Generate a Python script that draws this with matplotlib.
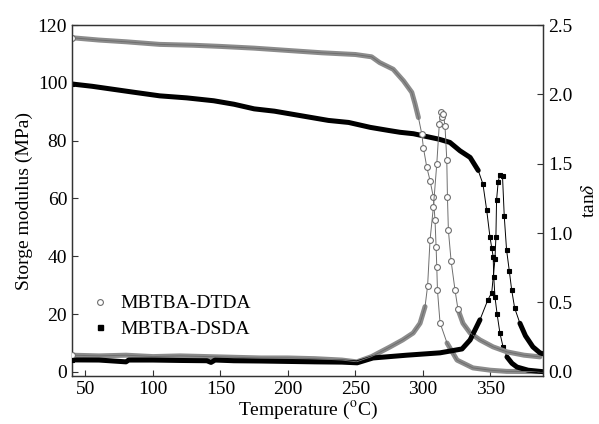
import matplotlib.pyplot as plt
from matplotlib.lines import Line2D
import numpy as np

# storage modulus, MBTBA-DTDA (MPa)
t_mod_dtda = [40, 60, 80, 105, 130, 150, 175, 200, 225, 250, 262, 268, 278, 285.6,
              291.8, 294.2, 296.7, 299.2, 300.4, 302.9, 305.3, 307.8, 309, 309.8,
              310.3, 310.8, 312.7, 317.9, 325.3, 337.1, 350, 362, 386.7]
e_dtda = [115.6, 114.8, 114.2, 113.3, 113.0, 112.6, 112.0, 111.2, 110.4, 109.8, 109.0,
          107.0, 104.7, 100.7, 96.7, 92.7, 88.0, 82.3, 77.5, 70.8, 66.2, 60.4, 52.4,
          43.2, 36.3, 28.3, 17.0, 10.0, 4.1, 1.4, 0.6, 0.2, 0.1]

# storage modulus, MBTBA-DSDA (MPa)
t_mod_dsda = [40, 55, 70, 85, 105, 125, 145, 160, 175, 190, 200, 215, 230, 245, 261,
              275, 283, 293, 305, 312, 320, 327.5, 335, 341, 344.5, 347.3, 349.7, 351,
              352.1, 352.5, 353.4, 355, 357.1, 359.5, 362.3, 366, 369.7, 378, 386.7, 389]
e_dsda = [99.6, 98.8, 97.8, 96.8, 95.5, 94.8, 93.8, 92.6, 91.0, 90.2, 89.4, 88.2, 87.0,
          86.3, 84.6, 83.5, 82.9, 82.4, 81.2, 80.5, 79.4, 76.5, 74.2, 69.7, 65.0, 55.9,
          46.7, 43.0, 39.8, 33.0, 26.0, 20.0, 13.4, 8.5, 5.2, 3.0, 1.7, 0.6, 0.2, 0.1]

# tan delta, MBTBA-DTDA
t_tan_dtda = [40, 60, 80, 100, 120, 140, 160, 180, 200, 220, 240, 251, 262, 275.7, 285,
              292.8, 297.9, 301.6, 303.5, 305.3, 307.8, 310.3, 312.2, 313.5, 314.5,
              315.2, 316.4, 317.7, 318.2, 318.9, 320.9, 323.8, 326, 329.7, 335, 342.3,
              352, 362.3, 375, 386.7]
tan_dtda = [0.12, 0.115, 0.12, 0.11, 0.115, 0.11, 0.105, 0.10, 0.10, 0.095, 0.085,
            0.072, 0.11, 0.18, 0.23, 0.28, 0.35, 0.47, 0.62, 0.95, 1.19, 1.5, 1.79, 1.87,
            1.84, 1.86, 1.77, 1.53, 1.26, 1.02, 0.8, 0.59, 0.45, 0.35, 0.28, 0.23, 0.18,
            0.144, 0.12, 0.108]

# tan delta, MBTBA-DSDA
t_tan_dsda = [40, 60, 80, 82, 100, 120, 140, 143, 146, 160, 180, 200, 220, 240, 251.3,
              263, 288, 312.7, 329, 335, 342.3, 348.2, 351, 353.4, 354.1, 354.6, 355.8,
              357, 359, 360.3, 362, 364, 365.8, 368, 371.9, 376, 381.5, 386.7, 389]
tan_dsda = [0.086, 0.085, 0.072, 0.085, 0.085, 0.082, 0.08, 0.068, 0.085, 0.08, 0.078,
            0.075, 0.072, 0.07, 0.065, 0.10, 0.12, 0.137, 0.165, 0.23, 0.375, 0.52,
            0.57, 0.81, 0.97, 1.24, 1.37, 1.42, 1.41, 1.12, 0.88, 0.73, 0.59, 0.46,
            0.35, 0.26, 0.18, 0.137, 0.13]

x_ticks = [50, 100, 150, 200, 250, 300, 350]
left_ticks = [0, 20, 40, 60, 80, 100, 120]
right_ticks = [0.0, 0.5, 1.0, 1.5, 2.0, 2.5]

plt.rcParams['font.family'] = ['Liberation Serif', 'DejaVu Serif']
plt.rcParams['mathtext.fontset'] = 'stix'
fs = 14
gray = '#6e6e6e'
band_gray = '#8c8c8c'

fig = plt.figure(figsize=(5.99, 4.24), dpi=100)
ax1 = fig.add_axes([0.1202, 0.1132, 0.7863, 0.8278])
ax2 = ax1.twinx()


def draw(ax, t, v, dense, kind):
    # dense stretches of the record show up as a thick trace,
    # steep stretches as single markers joined by a thin line
    t = np.asarray(t)
    v = np.asarray(v)
    if kind == 'o':
        col, mk, ms, mfc = gray, 'o', 4.2, 'white'
        bcol = band_gray
    else:
        col, mk, ms, mfc = 'black', 's', 3.4, 'black'
        bcol = 'black'
    for lo, hi in dense:
        m = (t >= lo) & (t <= hi)
        ax.plot(t[m], v[m], color=bcol, lw=3.6, solid_capstyle='round', zorder=2)
    ax.plot(t, v, color=col, lw=0.7, zorder=2.5)
    sparse = np.ones(len(t), bool)
    for lo, hi in dense:
        sparse &= ~((t > lo) & (t < hi))
    ax.plot(t[sparse], v[sparse], ls='none', marker=mk, ms=ms, mfc=mfc,
            mec=col, mew=0.8, zorder=3)


draw(ax1, t_mod_dtda, e_dtda, [(40, 297), (317, 390)], 'o')
draw(ax1, t_mod_dsda, e_dsda, [(40, 342), (362, 390)], 's')
draw(ax2, t_tan_dtda, tan_dtda, [(40, 302), (326, 390)], 'o')
draw(ax2, t_tan_dsda, tan_dsda, [(40, 343), (371, 390)], 's')

ax1.set_xlim(40, 389)
ax1.set_ylim(-1.4, 120)
ax2.set_ylim(-0.03, 2.5)
ax1.set_xticks(x_ticks)
ax1.set_yticks(left_ticks)
ax2.set_yticks(right_ticks)
ax2.set_yticklabels(['%.1f' % v for v in right_ticks])

for ax in (ax1, ax2):
    ax.tick_params(direction='in', length=4, width=0.8, labelsize=fs, color='#333333')
    for s in ax.spines.values():
        s.set_color('#333333')
        s.set_linewidth(0.9)

ax1.set_xlabel('Temperature ($^{\\rm o}$C)', fontsize=fs, labelpad=1)
ax1.set_ylabel('Storge modulus (MPa)', fontsize=fs, labelpad=3)
ax2.set_ylabel('tan$\\delta$', fontsize=fs, rotation=90, labelpad=6)

handles = [
    Line2D([], [], ls='none', marker='o', ms=4.2, mfc='white', mec=gray, mew=0.8),
    Line2D([], [], ls='none', marker='s', ms=3.6, mfc='black', mec='black'),
]
ax1.legend(handles, ['MBTBA-DTDA', 'MBTBA-DSDA'], loc='center left',
           bbox_to_anchor=(0.0, 0.17), frameon=False, fontsize=fs,
           handlelength=1.1, handletextpad=0.5, labelspacing=0.4)

fig.savefig('out.png', dpi=100)
